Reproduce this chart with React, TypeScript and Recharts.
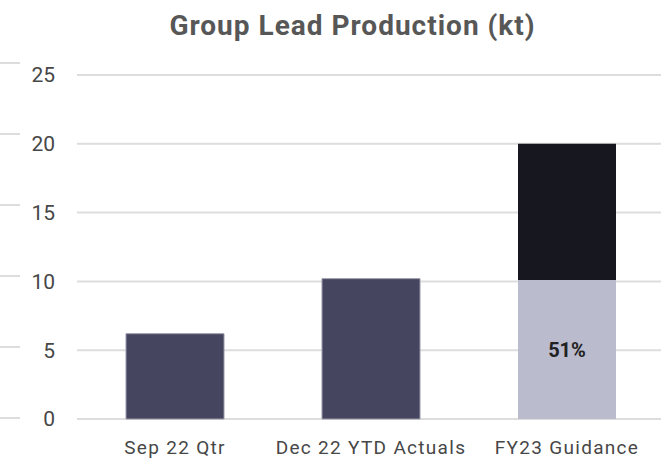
import React from "react";
import { BarChart, Bar, XAxis, YAxis, CartesianGrid, LabelList } from "recharts";

const categories = ["Sep 22 Qtr", "Dec 22 YTD Actuals", "FY23 Guidance"];
const actuals = [6.2, 10.2, null];
const guidanceDone = [null, null, 10.1];
const guidanceRemaining = [null, null, 9.9];
const doneLabels = ["", "", "51%"];
const yTicks = [0, 5, 10, 15, 20, 25];

const data = categories.map((c, i) => ({
  name: c,
  actual: actuals[i],
  done: guidanceDone[i],
  rest: guidanceRemaining[i],
  label: doneLabels[i],
}));

const edgeData = [{ name: "a", v: 0 }];

const FONT = "Roboto, 'DejaVu Sans', sans-serif";

const EmptyTick = () => <g />;

export default function App() {
  return (
    <div style={{ position: "absolute", left: 0, top: 0, width: 661, height: 459, overflow: "hidden", background: "#fff" }}>
      <div
        style={{
          position: "absolute",
          left: 0,
          top: 9,
          width: 661,
          textAlign: "center",
          paddingLeft: 44,
          boxSizing: "border-box",
          fontFamily: FONT,
          fontWeight: 700,
          fontSize: 28,
          letterSpacing: 1,
          color: "#575757",
        }}
      >
        Group Lead Production (kt)
      </div>
      <div style={{ position: "absolute", left: -40, top: 0, width: 60, height: 459, overflow: "hidden" }}>
        <BarChart width={60} height={459} data={edgeData} margin={{ top: 63, right: 0, bottom: 41, left: 0 }}>
          <CartesianGrid vertical={false} stroke="#dddddd" strokeWidth={2} />
          <XAxis dataKey="name" hide height={0} />
          <YAxis
            domain={[0, 25]}
            ticks={yTicks}
            interval={0}
            width={1}
            tick={EmptyTick}
            axisLine={false}
            tickLine={false}
          />
          <Bar dataKey="v" fill="none" isAnimationActive={false} />
        </BarChart>
      </div>
      <div style={{ position: "absolute", left: 0, top: 0 }}>
        <BarChart
          width={665}
          height={459}
          data={data}
          margin={{ top: 75, right: 0, bottom: 6, left: 0 }}
          barCategoryGap="25%"
        >
          <CartesianGrid vertical={false} stroke="#dddddd" strokeWidth={2} />
          <XAxis
            dataKey="name"
            axisLine={false}
            tickLine={false}
            tick={{ fill: "#474747", fontSize: 19, fontFamily: FONT, letterSpacing: 1.3 }}
            tickMargin={16}
            height={34}
          />
          <YAxis
            domain={[0, 25]}
            ticks={yTicks}
            axisLine={false}
            tickLine={false}
            width={77}
            tickMargin={16}
            tick={{ fill: "#474747", fontSize: 21, fontFamily: FONT }}
          />
          <Bar dataKey="actual" stackId="a" fill="#45455F" stroke="#9a9aab" strokeWidth={1} isAnimationActive={false} />
          <Bar dataKey="done" stackId="a" fill="#BBBBCE" isAnimationActive={false}>
            <LabelList dataKey="label" position="center" fill="#222222" fontSize={20} fontWeight={700} fontFamily={FONT} />
          </Bar>
          <Bar dataKey="rest" stackId="a" fill="#17171F" isAnimationActive={false} />
        </BarChart>
      </div>
    </div>
  );
}
